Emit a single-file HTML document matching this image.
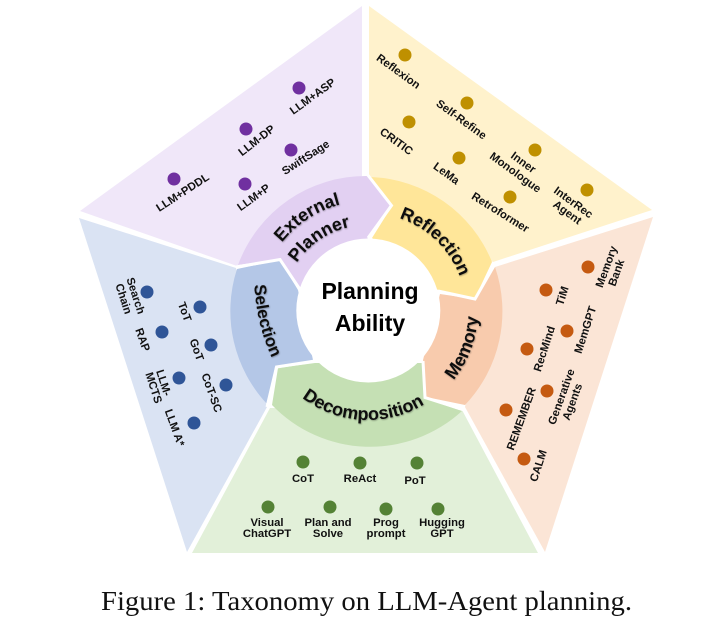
<!DOCTYPE html>
<html>
<head>
<meta charset="utf-8">
<style>
html,body{margin:0;padding:0;background:#fff;width:720px;height:640px;overflow:hidden}
svg{display:block}
.s{font-family:"Liberation Sans",sans-serif;font-weight:700;font-size:11.3px;fill:#111;text-anchor:middle;dominant-baseline:central}
.r{font-family:"Liberation Sans",sans-serif;font-weight:700;font-size:18px;fill:#111;text-anchor:middle}
.c{font-family:"Liberation Sans",sans-serif;font-weight:700;font-size:23px;fill:#000;text-anchor:middle}
</style>
</head>
<body>
<svg width="720" height="640" viewBox="0 0 720 640" xmlns="http://www.w3.org/2000/svg">
<defs>
<filter id="sh" x="-20%" y="-20%" width="140%" height="140%"><feDropShadow dx="0.6" dy="0.8" stdDeviation="0.9" flood-color="#000" flood-opacity="0.35"/></filter>
<path id="pExt" d="M258.8 297.6A110 110 0 0 1 400.2 205.8"/>
<path id="pPla" d="M282.5 302A86 86 0 0 1 391.7 228.3"/>
<path id="pRef" d="M357.8 213.5A98 98 0 0 1 465.8 317.8"/>
<path id="pSel" d="M256 248A200 200 0 0 0 290 390"/>
<path id="pDec" d="M270.9 360.5A109 109 0 0 0 459.4 370.4"/>
<path id="pMem" d="M403.8 415A110 110 0 0 0 464.2 257.7"/>
</defs>
<polygon points="362,6 80,211 237,266 362,176" fill="#f0e7f9"/>
<polygon points="369,6 652,210 493,262 369,176" fill="#fff2cc"/>
<polygon points="653,217 545,552 465,407 495,267" fill="#fbe5d6"/>
<polygon points="192,553 538,553 462,410 270,408" fill="#e2f0d9"/>
<polygon points="79,218 187,552 267,407 236,268" fill="#dae3f3"/>

<path d="M238 265A136 136 0 0 1 367 176L390 205L368 238L300 287L280 259Z" fill="#e2d0f2"/>
<path d="M370 177A136 136 0 0 1 492 262L475 298L438 290L372 238L392 206Z" fill="#ffe699"/>
<path d="M495 267A136 136 0 0 1 465 405L426 397L423 360L440 294L474 299Z" fill="#f8cbad"/>
<path d="M462 411A136 136 0 0 1 272 405L278 368L315 363L422 363L424 398Z" fill="#c5e0b4"/>
<path d="M237 269A136 136 0 0 0 268 405L275 367L313 360L298 290L280 260Z" fill="#b4c7e7"/>
<g fill="none" stroke="#fff" stroke-width="3" stroke-linejoin="miter">
<polyline points="367,174 391.500,205.500 368,238"/>
<polyline points="236,267 280,259.500 299,288"/>
<polyline points="267,407 276.500,367 315,361"/>
<polyline points="423,361 425,397.500 464,410"/>
<polyline points="495,264 475,299 438,291"/>
</g>
<circle cx="368.3" cy="310.5" r="72" fill="#fff"/>

<text class="c" x="370" y="299">Planning</text>
<text class="c" x="370" y="331">Ability</text>

<g filter="url(#sh)">
<text class="r"><textPath href="#pExt" startOffset="50%">External</textPath></text>
<text class="r"><textPath href="#pPla" startOffset="50%">Planner</textPath></text>
<text class="r"><textPath href="#pRef" startOffset="50%">Reflection</textPath></text>
<text class="r" style="font-size:17px"><textPath href="#pSel" startOffset="50%">Selection</textPath></text>
<text class="r"><textPath href="#pDec" startOffset="50%">Decomposition</textPath></text>
<text class="r"><textPath href="#pMem" startOffset="50%">Memory</textPath></text>
</g>

<g fill="#7030a0">
<circle cx="299" cy="88" r="6.5"/><circle cx="246" cy="129" r="6.5"/><circle cx="291" cy="150" r="6.5"/><circle cx="245" cy="184" r="6.5"/><circle cx="174" cy="179" r="6.5"/>
</g>
<g fill="#bf9000">
<circle cx="405" cy="55" r="6.5"/><circle cx="467" cy="103" r="6.5"/><circle cx="409" cy="122" r="6.5"/><circle cx="459" cy="158" r="6.5"/><circle cx="535" cy="150" r="6.5"/><circle cx="510" cy="197" r="6.5"/><circle cx="587" cy="190" r="6.5"/>
</g>
<g fill="#2f5597">
<circle cx="147" cy="292" r="6.5"/><circle cx="200" cy="307" r="6.5"/><circle cx="162" cy="332" r="6.5"/><circle cx="211" cy="345" r="6.5"/><circle cx="179" cy="378" r="6.5"/><circle cx="226" cy="385" r="6.5"/><circle cx="194" cy="423" r="6.5"/>
</g>
<g fill="#c55a11">
<circle cx="588" cy="267" r="6.5"/><circle cx="546" cy="290" r="6.5"/><circle cx="567" cy="331" r="6.5"/><circle cx="527" cy="349" r="6.5"/><circle cx="547" cy="391" r="6.5"/><circle cx="506" cy="410" r="6.5"/><circle cx="524" cy="459" r="6.5"/>
</g>
<g fill="#548235">
<circle cx="303" cy="462" r="6.5"/><circle cx="360" cy="463" r="6.5"/><circle cx="417" cy="463" r="6.5"/><circle cx="268" cy="507" r="6.5"/><circle cx="330" cy="507" r="6.5"/><circle cx="386" cy="509" r="6.5"/><circle cx="438" cy="509" r="6.5"/>
</g>

<text class="s" x="313" y="97" transform="rotate(-36 313 97)">LLM+ASP</text>
<text class="s" x="257" y="141" transform="rotate(-38 257 141)">LLM-DP</text>
<text class="s" x="306" y="158" transform="rotate(-33 306 158)">SwiftSage</text>
<text class="s" x="254" y="198" transform="rotate(-36 254 198)">LLM+P</text>
<text class="s" x="183" y="193" transform="rotate(-33 183 193)">LLM+PDDL</text>

<text class="s" x="398" y="72" transform="rotate(36 398 72)">Reflexion</text>
<text class="s" x="461" y="120" transform="rotate(36 461 120)">Self-Refine</text>
<text class="s" x="396" y="142" transform="rotate(36 396 142)">CRITIC</text>
<text class="s" x="446" y="174" transform="rotate(36 446 174)">LeMa</text>
<text class="s" x="523" y="163" transform="rotate(36 523 163)">Inner</text>
<text class="s" x="515" y="173" transform="rotate(36 515 173)">Monologue</text>
<text class="s" x="500" y="213" transform="rotate(32 500 213)">Retroformer</text>
<text class="s" x="573" y="203" transform="rotate(36 573 203)">InterRec</text>
<text class="s" x="567" y="213" transform="rotate(36 567 213)">Agent</text>

<text class="s" x="135" y="296" transform="rotate(72 135 296)">Search</text>
<text class="s" x="123" y="299" transform="rotate(72 123 299)">Chain</text>
<text class="s" x="184" y="312" transform="rotate(70 184 312)">ToT</text>
<text class="s" x="142" y="340" transform="rotate(70 142 340)">RAP</text>
<text class="s" x="196" y="350" transform="rotate(70 196 350)">GoT</text>
<text class="s" x="163" y="383" transform="rotate(72 163 383)">LLM-</text>
<text class="s" x="153" y="388" transform="rotate(72 153 388)">MCTS</text>
<text class="s" x="211" y="393" transform="rotate(70 211 393)">CoT-SC</text>
<text class="s" x="174" y="428" transform="rotate(70 174 428)">LLM A*</text>

<text class="s" x="607" y="267" transform="rotate(-70 607 267)">Memory</text>
<text class="s" x="617" y="273" transform="rotate(-70 617 273)">Bank</text>
<text class="s" x="563" y="296" transform="rotate(-72 563 296)">TiM</text>
<text class="s" x="586" y="330" transform="rotate(-72 586 330)">MemGPT</text>
<text class="s" x="545" y="349" transform="rotate(-72 545 349)">RecMind</text>
<text class="s" x="562" y="397" transform="rotate(-70 562 397)">Generative</text>
<text class="s" x="573" y="402" transform="rotate(-70 573 402)">Agents</text>
<text class="s" x="522" y="419" transform="rotate(-70 522 419)">REMEMBER</text>
<text class="s" x="539" y="466" transform="rotate(-72 539 466)">CALM</text>

<text class="s" x="303" y="479">CoT</text>
<text class="s" x="360" y="479">ReAct</text>
<text class="s" x="415" y="481">PoT</text>
<text class="s" x="267" y="523">Visual</text>
<text class="s" x="267" y="534">ChatGPT</text>
<text class="s" x="328" y="523">Plan and</text>
<text class="s" x="328" y="534">Solve</text>
<text class="s" x="386" y="523">Prog</text>
<text class="s" x="386" y="534">prompt</text>
<text class="s" x="442" y="523">Hugging</text>
<text class="s" x="442" y="534">GPT</text>

<text x="101" y="610" font-family="'Liberation Serif',serif" font-size="27" fill="#111" textLength="531" lengthAdjust="spacingAndGlyphs">Figure 1: Taxonomy on LLM-Agent planning.</text>
</svg>
</body>
</html>
